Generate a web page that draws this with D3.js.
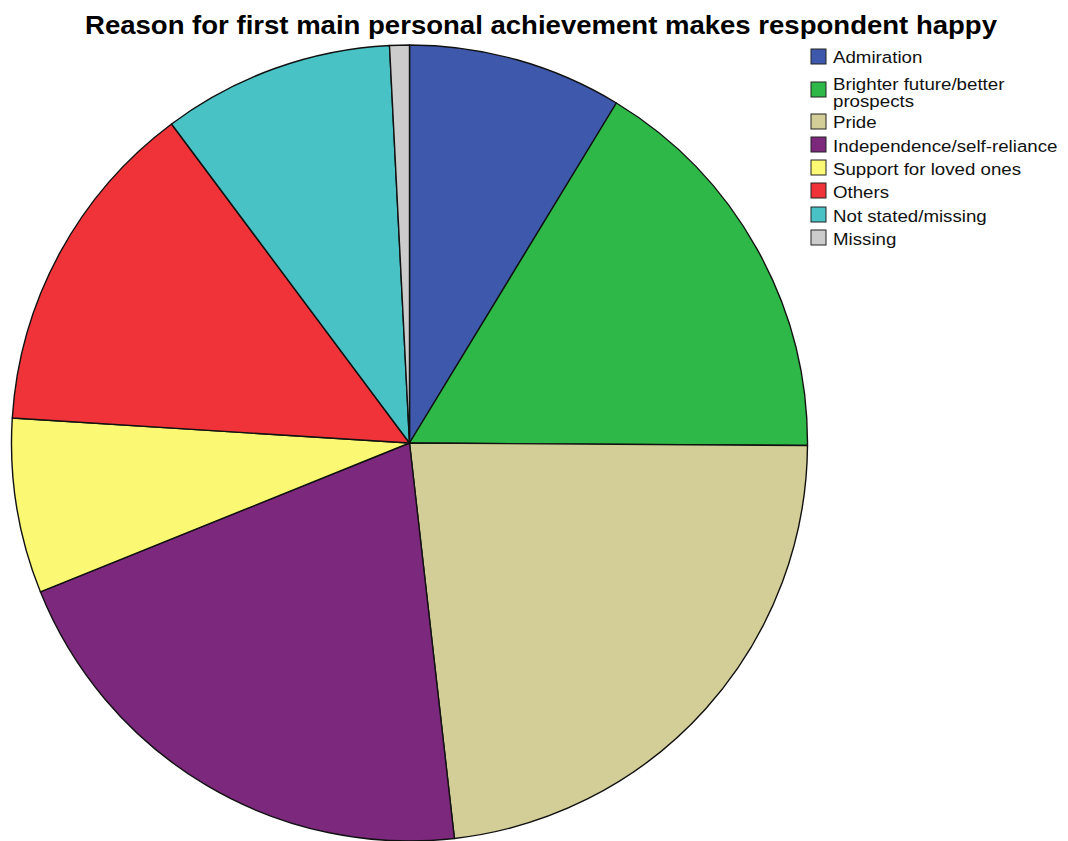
<!DOCTYPE html>
<html>
<head>
<meta charset="utf-8">
<script src="https://cdn.jsdelivr.net/npm/d3@7"></script>
<style>
  html, body { margin: 0; padding: 0; background: #ffffff; }
  svg { display: block; font-family: "Liberation Sans", Arial, sans-serif; }
</style>
</head>
<body>
<svg id="chart" width="1068" height="841"></svg>
<script>
// Share of respondents (%) by reason
const categories = [
  "Admiration",
  "Brighter future/better prospects",
  "Pride",
  "Independence/self-reliance",
  "Support for loved ones",
  "Others",
  "Not stated/missing",
  "Missing"
];
const shares = [8.7, 16.4, 23.1, 20.7, 7.1, 13.8, 9.4, 0.8];
// Legend text, wrapped as it is printed
const legendLines = [
  ["Admiration"],
  ["Brighter future/better", "prospects"],
  ["Pride"],
  ["Independence/self-reliance"],
  ["Support for loved ones"],
  ["Others"],
  ["Not stated/missing"],
  ["Missing"]
];
const palette = ["#3e58ac", "#2eb848", "#d3ce97", "#7c287d", "#fbf873", "#ef3338", "#48c2c5", "#cccccc"];
const title = "Reason for first main personal achievement makes respondent happy";

const svg = d3.select("#chart");

const data = categories.map((c, i) => ({ name: c, value: shares[i], lines: legendLines[i] }));
const color = d3.scaleOrdinal().domain(categories).range(palette);

// Title
svg.append("text")
  .attr("x", 541)
  .attr("y", 34)
  .attr("text-anchor", "middle")
  .attr("font-size", 25.5)
  .attr("font-weight", "bold")
  .attr("fill", "#000")
  .attr("textLength", 912)
  .attr("lengthAdjust", "spacingAndGlyphs")
  .text(title);

// Pie, clockwise from 12 o'clock
const cx = 409.5, cy = 443, radius = 398;
const pie = d3.pie().value(d => d.value).sort(null).startAngle(0).endAngle(2 * Math.PI);
const arc = d3.arc().innerRadius(0).outerRadius(radius);

svg.append("g")
  .attr("transform", `translate(${cx},${cy})`)
  .selectAll("path")
  .data(pie(data))
  .join("path")
  .attr("d", arc)
  .attr("fill", d => color(d.data.name))
  .attr("stroke", "#111")
  .attr("stroke-width", 1.4)
  .attr("stroke-linejoin", "round");

// Legend
const rowTops = [49, 82, 114, 137, 160, 183, 207, 230];
const baselines = [63.5, 90, 128.5, 152, 175, 198.5, 222, 245];
const legend = svg.append("g");
const item = legend.selectAll("g")
  .data(data)
  .join("g");

item.append("rect")
  .attr("x", 811)
  .attr("y", (d, i) => rowTops[i])
  .attr("width", 15)
  .attr("height", 15)
  .attr("fill", d => color(d.name))
  .attr("stroke", "#222")
  .attr("stroke-width", 1);

// Legend labels are set slightly wide
item.append("g")
  .attr("transform", "translate(833,0) scale(1.1,1)")
  .append("text")
  .attr("x", 0)
  .attr("y", (d, i) => baselines[i])
  .attr("font-size", 17)
  .attr("fill", "#111")
  .selectAll("tspan")
  .data(d => d.lines)
  .join("tspan")
  .attr("x", 0)
  .attr("dy", (l, j) => j === 0 ? 0 : 17)
  .text(l => l);
</script>
</body>
</html>
